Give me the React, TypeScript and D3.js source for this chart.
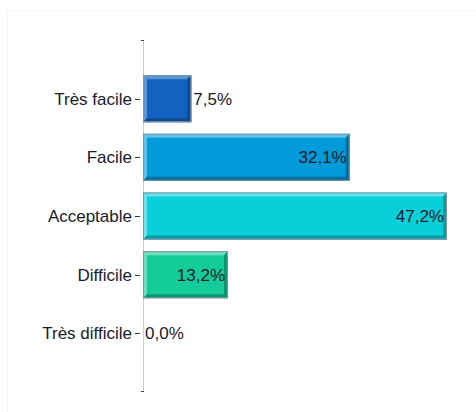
import React from "react";
import * as d3 from "d3";

const categories = ["Très facile", "Facile", "Acceptable", "Difficile", "Très difficile"];
const values = [7.5, 32.1, 47.2, 13.2, 0.0];
const labels = ["7,5%", "32,1%", "47,2%", "13,2%", "0,0%"];
const fills = ["#1462c0", "#009bd8", "#08cfd8", "#14cc9a", "#888888"];
const lights = ["#5a95d8", "#5bc2ec", "#66e2ea", "#6be0c0", "#bbbbbb"];
const darks = ["#0c4a8f", "#006d9e", "#0a9ba2", "#0d9470", "#555555"];

const W = 476;
const H = 412;

export default function App() {
  const x = d3.scaleLinear().domain([0, 50]).range([143, 465]);
  const y = d3.scaleLinear().domain([0, 6]).range([40, 392]);
  const bh = 47;
  const bev = 4;
  const font = "'Liberation Sans', Arial, sans-serif";
  const fs = 17;
  return (
    <svg width={W} height={H} style={{ position: "absolute", left: 0, top: 0 }}>
      <rect x={0} y={0} width={W} height={H} fill="#fff" />
      <rect x={7.5} y={10.5} width={W + 10} height={H + 10} fill="none" stroke="#f6f6f6" />
      <line x1={x(0) + 0.5} x2={x(0) + 0.5} y1={y(0)} y2={y(6)} stroke="#d0d0d0" />
      <line x1={x(0) - 2} x2={x(0) + 1} y1={y(0) + 0.5} y2={y(0) + 0.5} stroke="#444" />
      <line x1={x(0) - 2} x2={x(0) + 1} y1={y(6) - 0.5} y2={y(6) - 0.5} stroke="#444" />
      {categories.map((c, i) => {
        const cy = y(i + 1);
        const x0 = x(0);
        const x1 = x(values[i]);
        const w = x1 - x0;
        const top = cy - bh / 2;
        const inside = w > 55;
        return (
          <g key={c}>
            <line x1={x0 - 8} x2={x0 - 3} y1={Math.round(cy) + 0.5} y2={Math.round(cy) + 0.5} stroke="#333" />
            <text x={x0 - 11} y={cy} dy="0.35em" textAnchor="end" fontFamily={font} fontSize={fs} fill="#1a1a2a">
              {c}
            </text>
            {w > 0 && (
              <g>
                <rect x={x0} y={top} width={w} height={bh} fill={fills[i]} />
                <polygon
                  points={`${x0},${top} ${x1},${top} ${x1 - bev},${top + bev} ${x0 + bev},${top + bev} ${x0 + bev},${top + bh - bev} ${x0},${top + bh}`}
                  fill={lights[i]}
                />
                <polygon
                  points={`${x1},${top} ${x1},${top + bh} ${x0},${top + bh} ${x0 + bev},${top + bh - bev} ${x1 - bev},${top + bh - bev} ${x1 - bev},${top + bev}`}
                  fill={darks[i]}
                />
                <rect x={x0 + 0.5} y={top + 0.5} width={w - 1} height={bh - 1} fill="none" stroke="#8296a8" />
              </g>
            )}
            <text
              x={inside ? x1 - 3 : x1 + 2}
              y={cy}
              dy="0.35em"
              textAnchor={inside ? "end" : "start"}
              fontFamily={font}
              fontSize={fs}
              fill="#1a1a2a"
            >
              {labels[i]}
            </text>
          </g>
        );
      })}
    </svg>
  );
}
